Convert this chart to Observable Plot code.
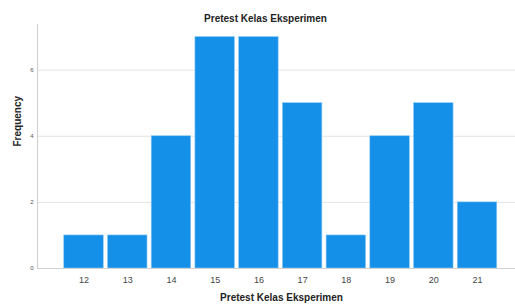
<!DOCTYPE html>
<html>
<head>
<meta charset="utf-8">
<script src="https://cdn.jsdelivr.net/npm/d3@7"></script>
<script src="https://cdn.jsdelivr.net/npm/@observablehq/plot@0.6"></script>
<style>
  html, body { margin: 0; padding: 0; background: #fff; }
  #chart svg { display: block; }
</style>
</head>
<body>
<div id="chart"></div>
<script>
const scores = [12, 13, 14, 15, 16, 17, 18, 19, 20, 21];
const frequencies = [1, 1, 4, 7, 7, 5, 1, 4, 5, 2];
const yTicks = [0, 2, 4, 6];
const gridValues = [2, 4, 6];
const chartTitle = "Pretest Kelas Eksperimen";
const xTitle = "Pretest Kelas Eksperimen";
const yTitle = "Frequency";

const data = scores.map((s, i) => ({score: s, count: frequencies[i]}));
const xMin = 10.936, xMax = 21.869;

const chart = Plot.plot({
  width: 515,
  height: 306,
  marginLeft: 37,
  marginRight: 0,
  marginTop: 24,
  marginBottom: 38,
  style: {fontFamily: "'Liberation Sans', Arial, sans-serif", background: "#fff"},
  x: {domain: [xMin, xMax], label: null},
  y: {domain: [0, 7.38], label: null},
  marks: [
    Plot.ruleY(gridValues, {stroke: "#e4e4e4", strokeWidth: 1}),
    Plot.rectY(data, {
      x1: d => d.score - 0.5,
      x2: d => d.score + 0.5,
      y1: 0,
      y2: "count",
      insetLeft: 2.1,
      insetRight: 2.1,
      fill: "#1590e8",
      stroke: "#8fcaf5",
      strokeWidth: 0.6
    }),
    Plot.ruleY([0], {stroke: "#d2d2d2", strokeWidth: 1.2}),
    Plot.ruleX([xMin], {stroke: "#d2d2d2", strokeWidth: 1.2}),
    Plot.axisX({ticks: scores, tickFormat: d => String(d), tickSize: 0, tickPadding: 8, fontSize: 9, color: "#444", label: null}),
    Plot.axisY({ticks: yTicks, tickFormat: d => String(d), tickSize: 0, tickPadding: 4, fontSize: 6, color: "#555", label: null}),
    Plot.text([chartTitle], {frameAnchor: "top", dx: -11, dy: -10, text: d => d, fontSize: 10, fontWeight: "bold", fill: "#222"}),
    Plot.text([xTitle], {frameAnchor: "bottom", dx: 5, dy: 32, text: d => d, fontSize: 10, fontWeight: "bold", fill: "#222"}),
    Plot.text([yTitle], {frameAnchor: "left", dx: -20, text: d => d, rotate: -90, fontSize: 10, fontWeight: "bold", fill: "#222"})
  ]
});
document.getElementById("chart").appendChild(chart);
</script>
</body>
</html>
